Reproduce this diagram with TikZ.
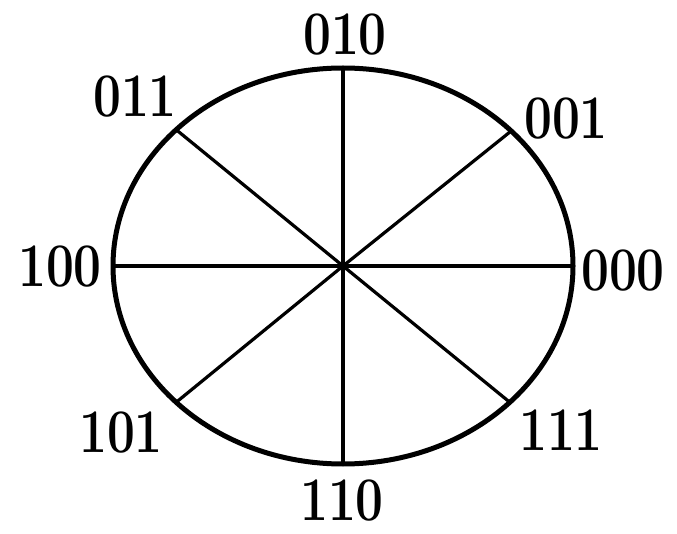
\documentclass[tikz,border=0pt]{standalone}
\usetikzlibrary{calc}
\begin{document}
\begin{tikzpicture}[x=1pt,y=-1pt,
  rim/.style={line width=5pt},
  spoke/.style={line width=3.2pt},
  lab/.style={inner sep=0pt, font=\fontsize{62}{62}\selectfont\bfseries, xscale=0.8}]
\useasboundingbox (0,0) rectangle (677,534);
\coordinate (c) at (343,266);
\draw[rim] (c) ellipse [x radius=230, y radius=198];
\foreach \n/\t in {e000/0, e001/43, e010/90, e011/136.5, e100/180, e101/223.5, e110/270, e111/316.5}{
  \coordinate (\n) at ($(c)+({230*cos(\t)},{-198*sin(\t)})$);
}
\foreach \n in {e000,e001,e010,e011,e100,e101,e110,e111}{
  \draw[spoke] (c) -- (\n);
}
\node[lab] (l010) at (345,35) {010};
\node[lab] (l011) at (135,97) {011};
\node[lab] (l001) at (566,119) {001};
\node[lab] (l100) at (60,267) {100};
\node[lab] (l000) at (623,271) {000};
\node[lab] (l101) at (121,433) {101};
\node[lab] (l111) at (561,430) {111};
\node[lab] (l110) at (342,501) {110};
\end{tikzpicture}
\end{document}
